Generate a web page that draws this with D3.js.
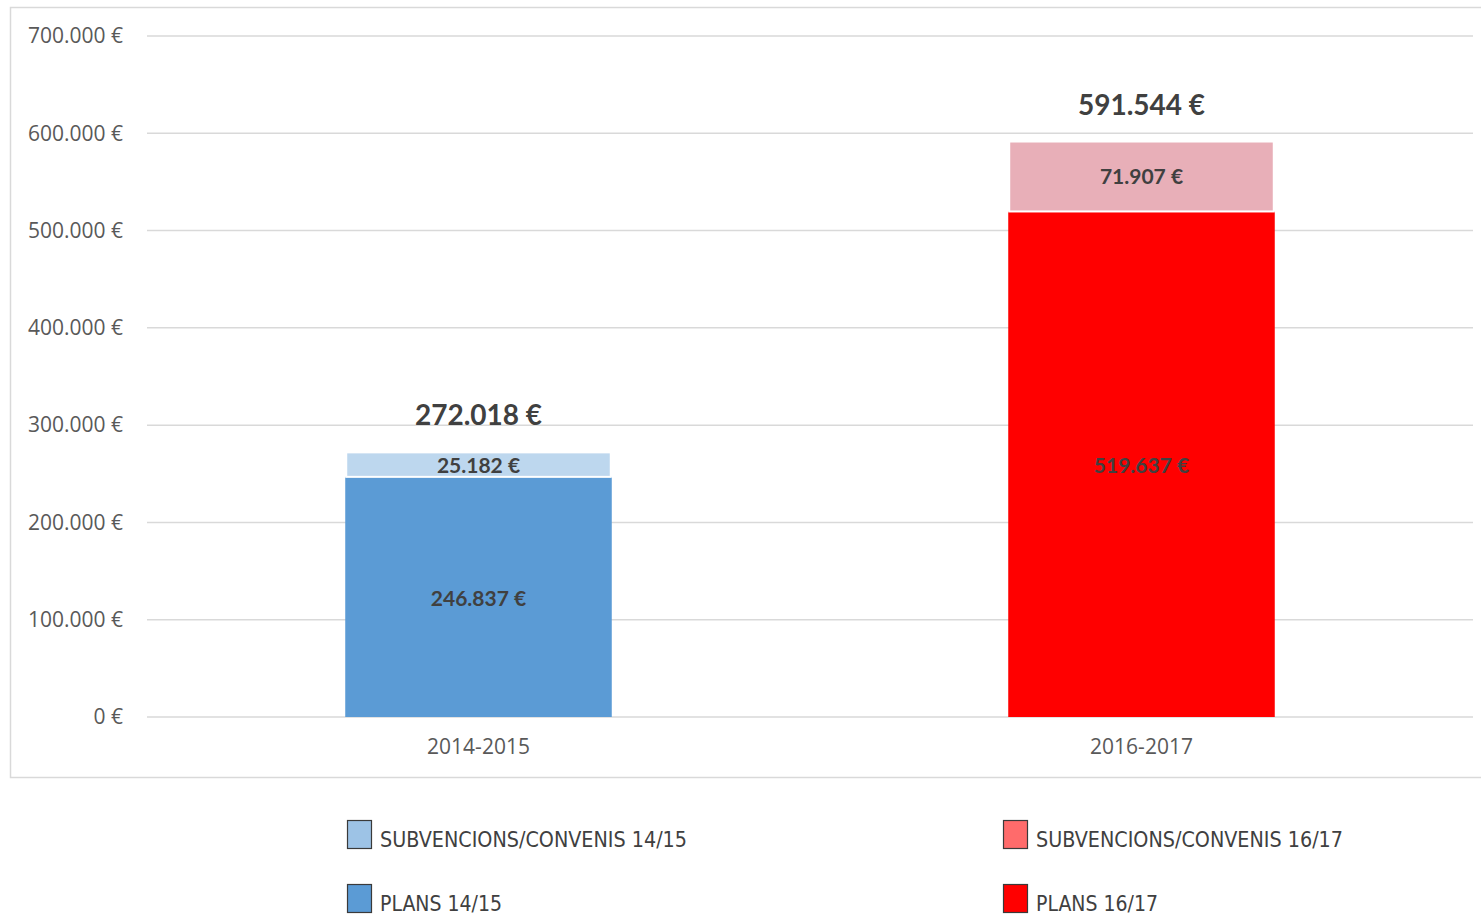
<!DOCTYPE html>
<html>
<head>
<meta charset="utf-8">
<script src="https://cdn.jsdelivr.net/npm/d3@7"></script>
<style>
  html, body { margin: 0; padding: 0; background: #fff; }
  svg { display: block; }
</style>
</head>
<body>
<svg id="chart" width="1481" height="917"></svg>
<script>
// Periods shown on the x axis
const categories = ["2014-2015", "2016-2017"];
// Plans (bottom segment) per period
const plansValues = [246837, 519637];
// Subvencions / convenis (top segment) per period
const subsidyValues = [25182, 71907];
// Stated totals above each column
const totalValues = [272018, 591544];
// Y axis ticks
const yTicks = [0, 100000, 200000, 300000, 400000, 500000, 600000, 700000];
// Legend entries
const legendLabels = ["SUBVENCIONS/CONVENIS 14/15", "PLANS 14/15", "SUBVENCIONS/CONVENIS 16/17", "PLANS 16/17"];

const plansColors = ["#5B9BD5", "#FF0000"];
const subsidyColors = ["#BDD7EE", "#E8AFB8"];
const legendColors = ["#9DC3E6", "#5B9BD5", "#FF6B6B", "#FF0000"];

const locale = d3.formatLocale({ decimal: ",", thousands: ".", grouping: [3], currency: ["", " €"] });
const fmt = locale.format("$,.0f");

const svg = d3.select("#chart");

// Chart frame
svg.append("rect")
  .attr("x", 10.5).attr("y", 7.5)
  .attr("width", 1490).attr("height", 770)
  .attr("fill", "none").attr("stroke", "#d9d9d9").attr("stroke-width", 1.5);

const plot = { left: 147, right: 1473, top: 36, bottom: 717 };

const x = d3.scaleBand().domain(categories)
  .range([plot.left, plot.right]).paddingInner(0.598).paddingOuter(0.299);
const y = d3.scaleLinear().domain([0, 700000]).range([plot.bottom, plot.top]);

// Gridlines
svg.append("g").selectAll("line").data(yTicks).join("line")
  .attr("x1", plot.left).attr("x2", plot.right)
  .attr("y1", d => y(d)).attr("y2", d => y(d))
  .attr("stroke", "#d9d9d9").attr("stroke-width", 1.5);

// Y axis labels
const yAxis = d3.axisLeft(y).tickValues(yTicks).tickFormat(fmt).tickSize(0).tickPadding(0);
const yg = svg.append("g").attr("transform", `translate(123,0)`).call(yAxis);
yg.select(".domain").remove();
yg.selectAll("text")
  .attr("fill", "#595959").attr("font-family", "'Open Sans', sans-serif").attr("font-size", 21);

// X axis labels
const xAxis = d3.axisBottom(x).tickSize(0).tickPadding(0);
const xg = svg.append("g").attr("transform", `translate(0,${plot.bottom + 22})`).call(xAxis);
xg.select(".domain").remove();
xg.selectAll("text")
  .attr("fill", "#595959").attr("font-family", "'Open Sans', sans-serif").attr("font-size", 21);

const bars = categories.map((c, i) => ({
  cat: c, plans: plansValues[i], subsidy: subsidyValues[i], total: totalValues[i], i
}));

// Plans segments
svg.append("g").selectAll("rect").data(bars).join("rect")
  .attr("x", d => x(d.cat)).attr("width", x.bandwidth())
  .attr("y", d => y(d.plans)).attr("height", d => y(0) - y(d.plans))
  .attr("fill", d => plansColors[d.i]);

// Subsidy segments stacked on top
svg.append("g").selectAll("rect").data(bars).join("rect")
  .attr("x", d => x(d.cat) + 1).attr("width", x.bandwidth() - 2)
  .attr("y", d => y(d.plans + d.subsidy)).attr("height", d => y(d.plans) - y(d.plans + d.subsidy))
  .attr("fill", d => subsidyColors[d.i])
  .attr("stroke", "#fff").attr("stroke-width", 2);

const labelFont = "Lato, 'Open Sans', sans-serif";

// Segment value labels
svg.append("g").selectAll("text").data(bars).join("text")
  .attr("x", d => x(d.cat) + x.bandwidth() / 2)
  .attr("y", d => (y(0) + y(d.plans)) / 2 + 9)
  .attr("text-anchor", "middle")
  .attr("font-family", labelFont).attr("font-weight", "bold").attr("font-size", 21)
  .attr("fill", "#404040")
  .text(d => fmt(d.plans));

svg.append("g").selectAll("text").data(bars).join("text")
  .attr("x", d => x(d.cat) + x.bandwidth() / 2)
  .attr("y", d => (y(d.plans) + y(d.plans + d.subsidy)) / 2 + 8)
  .attr("text-anchor", "middle")
  .attr("font-family", labelFont).attr("font-weight", "bold").attr("font-size", 21)
  .attr("fill", "#404040")
  .text(d => fmt(d.subsidy));

// Totals above columns
svg.append("g").selectAll("text").data(bars).join("text")
  .attr("x", d => x(d.cat) + x.bandwidth() / 2)
  .attr("y", d => y(d.total) - 27)
  .attr("text-anchor", "middle")
  .attr("font-family", labelFont).attr("font-weight", "bold").attr("font-size", 28)
  .attr("fill", "#404040")
  .text(d => fmt(d.total));

// Legend
const legendPos = [
  { x: 347, y: 820, w: 307 },
  { x: 347, y: 884, w: 122 },
  { x: 1003, y: 820, w: 307 },
  { x: 1003, y: 884, w: 122 }
];
const lg = svg.append("g").selectAll("g").data(legendLabels).join("g")
  .attr("transform", (d, i) => `translate(${legendPos[i].x},${legendPos[i].y})`);
lg.append("rect")
  .attr("x", 0.5).attr("y", 0.5).attr("width", 24).attr("height", 28)
  .attr("fill", (d, i) => legendColors[i])
  .attr("stroke", "#3a3a3a").attr("stroke-width", 1.2);
lg.append("text")
  .attr("x", 33).attr("y", 27)
  .attr("font-family", "'DejaVu Sans Condensed', 'Liberation Sans Narrow', sans-serif")
  .attr("font-size", 22)
  .attr("fill", "#404040")
  .attr("textLength", (d, i) => legendPos[i].w)
  .attr("lengthAdjust", "spacingAndGlyphs")
  .text(d => d);
</script>
</body>
</html>
